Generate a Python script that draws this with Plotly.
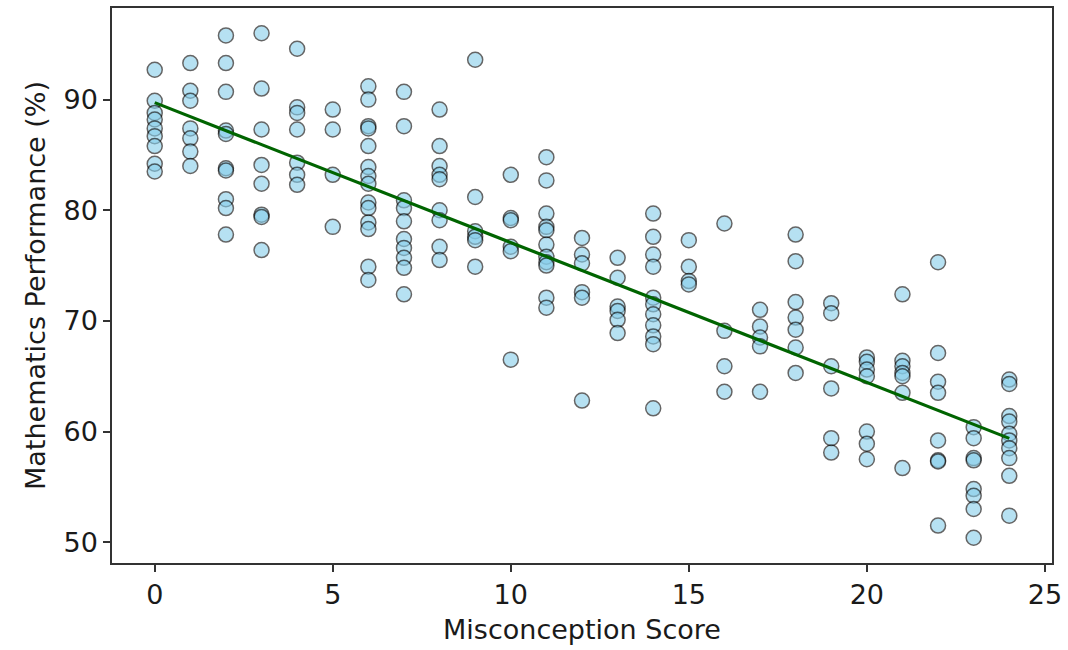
import numpy as np
import plotly.graph_objects as go

# Misconception score (x) -> list of mathematics performance values (y)
scores_0 = [92.7, 89.9, 88.8, 88.2, 87.4, 86.7, 85.8, 84.2, 83.5]
scores_1 = [93.3, 90.8, 89.9, 87.4, 86.5, 85.3, 84.0]
scores_2 = [95.8, 93.3, 90.7, 87.2, 86.9, 83.8, 83.6, 81.0, 80.2, 77.8]
scores_3 = [96.0, 91.0, 87.3, 84.1, 82.4, 79.6, 79.4, 76.4]
scores_4 = [94.6, 89.3, 88.8, 87.3, 84.3, 83.2, 82.3]
scores_5 = [89.1, 87.3, 83.2, 78.5]
scores_6 = [91.2, 90.0, 87.6, 87.4, 85.8, 83.9, 83.1, 82.4, 80.7, 80.2, 78.9, 78.3, 74.9, 73.7]
scores_7 = [90.7, 87.6, 80.9, 80.2, 79.0, 77.4, 76.6, 75.7, 74.8, 72.4]
scores_8 = [89.1, 85.8, 84.0, 83.2, 82.8, 80.0, 79.1, 76.7, 75.5]
scores_9 = [93.6, 81.2, 78.1, 77.6, 77.3, 74.9]
scores_10 = [83.2, 79.3, 79.1, 76.7, 76.3, 66.5]
scores_11 = [84.8, 82.7, 79.7, 78.5, 78.2, 76.9, 75.8, 75.3, 75.0, 72.1, 71.2]
scores_12 = [77.5, 76.0, 75.2, 72.6, 72.1, 62.8]
scores_13 = [75.7, 73.9, 71.3, 70.9, 70.1, 68.9]
scores_14 = [79.7, 77.6, 76.0, 74.9, 72.1, 71.5, 70.6, 69.6, 68.6, 67.9, 62.1]
scores_15 = [77.3, 74.9, 73.6, 73.3]
scores_16 = [78.8, 69.1, 65.9, 63.6]
scores_17 = [71.0, 69.5, 68.5, 67.7, 63.6]
scores_18 = [77.8, 75.4, 71.7, 70.3, 69.2, 67.6, 65.3]
scores_19 = [71.6, 70.7, 65.9, 63.9, 59.4, 58.1]
scores_20 = [66.7, 66.3, 65.6, 65.0, 60.0, 58.9, 57.5]
scores_21 = [72.4, 66.4, 65.9, 65.3, 65.0, 63.5, 56.7]
scores_22 = [75.3, 67.1, 64.5, 63.5, 59.2, 57.4, 57.3, 51.5]
scores_23 = [60.4, 59.4, 57.6, 57.4, 54.8, 54.2, 53.0, 50.4]
scores_24 = [64.7, 64.3, 61.4, 60.9, 59.8, 59.2, 58.5, 57.6, 56.0, 52.4]

columns = [scores_0, scores_1, scores_2, scores_3, scores_4, scores_5, scores_6,
           scores_7, scores_8, scores_9, scores_10, scores_11, scores_12, scores_13,
           scores_14, scores_15, scores_16, scores_17, scores_18, scores_19,
           scores_20, scores_21, scores_22, scores_23, scores_24]

x_vals = []
y_vals = []
for score, perf in enumerate(columns):
    x_vals.extend([score] * len(perf))
    y_vals.extend(perf)
x_arr = np.array(x_vals, dtype=float)
y_arr = np.array(y_vals, dtype=float)

x_tick_vals = [0, 5, 10, 15, 20, 25]
y_tick_vals = [50, 60, 70, 80, 90]

slope, intercept = np.polyfit(x_arr, y_arr, 1)
x_line = np.array([x_arr.min(), x_arr.max()])
y_line = slope * x_line + intercept

fig = go.Figure()
fig.add_trace(go.Scatter(
    x=x_vals, y=y_vals, mode="markers",
    marker=dict(size=15, color="#87CEEB", opacity=0.6,
                line=dict(color="black", width=1.5)),
    showlegend=False, hoverinfo="x+y",
))
fig.add_trace(go.Scatter(
    x=x_line, y=y_line, mode="lines",
    line=dict(color="#006400", width=3.2),
    showlegend=False,
))

xr = x_arr.max() - x_arr.min()
yr = y_arr.max() - y_arr.min()
font = dict(family="DejaVu Sans", size=27, color="#1a1a1a")
axis_common = dict(showline=True, linecolor="#333", linewidth=1.5, mirror=True,
                   ticks="outside", ticklen=7, tickwidth=1.5, tickcolor="#333",
                   showgrid=False, zeroline=False, tickfont=font)
fig.update_layout(
    width=1068, height=650,
    paper_bgcolor="white", plot_bgcolor="white",
    margin=dict(l=112, r=15, t=6, b=87),
    xaxis=dict(range=[x_arr.min() - 0.05 * xr, x_arr.max() + 0.05 * xr],
               tickvals=x_tick_vals, title=dict(text="Misconception Score", font=font, standoff=11),
               **axis_common),
    yaxis=dict(range=[y_arr.min() - 0.05 * yr, y_arr.max() + 0.05 * yr],
               tickvals=y_tick_vals, title=dict(text="Mathematics Performance (%)", font=font, standoff=10),
               **axis_common),
)
fig.write_html("out.html", config={"displayModeBar": False},
               post_script="document.body.style.margin='0';")
